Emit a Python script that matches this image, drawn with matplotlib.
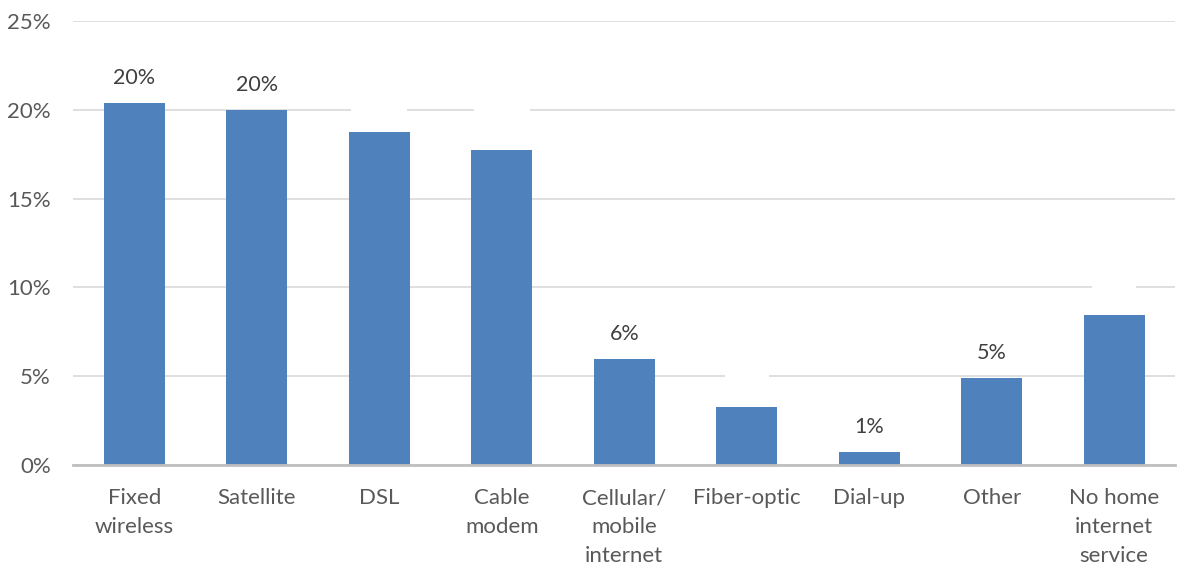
import matplotlib.pyplot as plt
import numpy as np

categories = ['Fixed\nwireless', 'Satellite', 'DSL', 'Cable\nmodem', 'Cellular/\nmobile\ninternet',
              'Fiber-optic', 'Dial-up', 'Other', 'No home\ninternet\nservice']
values = [20.4, 20.0, 18.75, 17.75, 5.95, 3.25, 0.7, 4.9, 8.45]
# which bars get a visible data label
show_label = [True, True, False, False, True, False, True, True, False]

plt.rcParams['font.family'] = ['Lato', 'DejaVu Sans']
text_col = '#595959'

fig = plt.figure(figsize=(11.79, 5.64), dpi=100)
ax = fig.add_axes([0.062, 0.176, 0.935, 0.786])

x = np.arange(len(categories))
ax.bar(x, values, width=0.5, color='#4f81bd', zorder=2)

for xi, v, show in zip(x, values, show_label):
    lab = '%d%%' % round(v)
    if show:
        ax.text(xi, v + 0.85, lab, ha='center', va='bottom', fontsize=15.5, color='#404040', zorder=3)
    else:
        ax.text(xi, v + 0.85, lab, ha='center', va='bottom', fontsize=15.5, color='white', zorder=3,
                bbox=dict(facecolor='white', edgecolor='none', pad=5))

ax.set_xlim(-0.5, len(categories) - 0.5)
ax.set_ylim(0, 25)
ax.set_yticks(np.arange(0, 26, 5))
ax.set_yticklabels(['%d%%' % t for t in range(0, 26, 5)])
ax.set_xticks(x)
ax.set_xticklabels(categories, linespacing=1.55)
ax.tick_params(axis='both', length=0, labelsize=16, colors=text_col)
ax.tick_params(axis='x', pad=17)
ax.tick_params(axis='y', pad=16)
ax.yaxis.grid(True, color='#d9d9d9', linewidth=1.2, zorder=0)
for s in ['top', 'right', 'left']:
    ax.spines[s].set_visible(False)
ax.spines['bottom'].set_color('#bfbfbf')
ax.spines['bottom'].set_linewidth(2)
ax.spines['bottom'].set_zorder(4)

plt.savefig('out.png', dpi=100)
